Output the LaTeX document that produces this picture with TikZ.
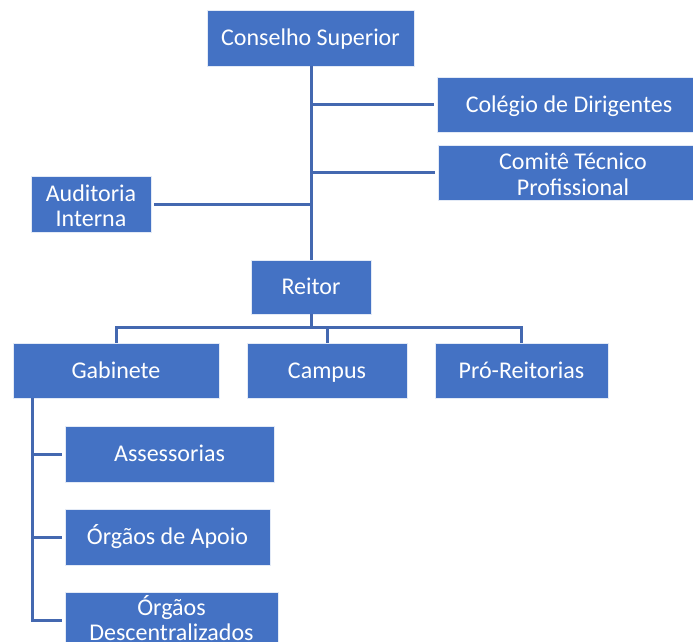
\documentclass[tikz,border=0pt]{standalone}
\usepackage{fontspec}
\setmainfont{Carlito}
\usetikzlibrary{calc}
\definecolor{boxblue}{HTML}{4472C4}
\definecolor{lineblue}{HTML}{4468B0}
\newcommand{\topstrut}{\rule{0pt}{20pt}}
\newcommand{\tallstrut}{\rule{0pt}{24.5pt}}
\newcommand{\botstrut}{\rule[-4.5pt]{0pt}{4.5pt}}
\begin{document}
\begin{tikzpicture}[x=1pt,y=-1pt,
  box/.style={draw=white!85!boxblue, line width=0.8pt, fill=boxblue, text=white,
    inner sep=0pt, align=center, font=\fontsize{24}{25.5}\selectfont,
    execute at begin node=\topstrut, execute at end node=\botstrut},
  conn/.style={draw=lineblue, line width=3pt}]
\useasboundingbox (0,0) rectangle (693,642);
\clip (0,0) rectangle (693,642);
\node[box, minimum width=207pt, minimum height=56pt] (cs) at (310.5,38) {Conselho Superior};
\node[box, minimum width=264pt, minimum height=55pt] (cd) at (569,104.5) {Colégio de Dirigentes};
\node[box, minimum width=270pt, minimum height=55pt] (ct) at (573,172.5) {\tallstrut Comitê Técnico\\Profissional};
\node[box, minimum width=120pt, minimum height=56pt] (ai) at (91,204) {\tallstrut Auditoria\\Interna};
\node[box, minimum width=120pt, minimum height=54pt] (re) at (311,287) {Reitor};
\node[box, minimum width=206pt, minimum height=55pt] (gab) at (116,370.5) {Gabinete};
\node[box, minimum width=160pt, minimum height=55pt] (cam) at (327,370.5) {Campus};
\node[box, minimum width=173pt, minimum height=55pt] (pro) at (521.5,370.5) {Pró-Reitorias};
\node[box, minimum width=209pt, minimum height=56pt] (ass) at (169.5,454) {Assessorias};
\node[box, minimum width=205pt, minimum height=56pt] (oa) at (167.5,537) {Órgãos de Apoio};
\node[box, minimum width=213pt, minimum height=56pt] (od) at (171.5,620) {Órgãos\\Descentralizados};
% spine from Conselho to Reitor
\draw[conn] (cs.south) ++(0.5,0) coordinate (sp) -- (sp |- re.north);
\draw[conn] (sp |- cd.west) -- ([xshift=-3pt]cd.west);
\draw[conn] (sp |- ct.west) -- ([xshift=-3pt]ct.west);
\draw[conn] ([xshift=3pt]ai.east) -- (ai.east -| sp);
% Reitor to bar
\draw[conn] (re.south) -- ++(0,15);
\draw[conn] (gab.north) -- ++(0,-15) -| (pro.north);
\draw[conn] (cam.north) -- ++(0,-15);
% Gabinete spine
\coordinate (gsp) at ($(gab.south west)+(20,0)$);
\draw[conn] (gsp) |- ([xshift=-3pt]od.west);
\draw[conn] (gsp |- ass.west) -- ([xshift=-3pt]ass.west);
\draw[conn] (gsp |- oa.west) -- ([xshift=-3pt]oa.west);
\end{tikzpicture}
\end{document}
